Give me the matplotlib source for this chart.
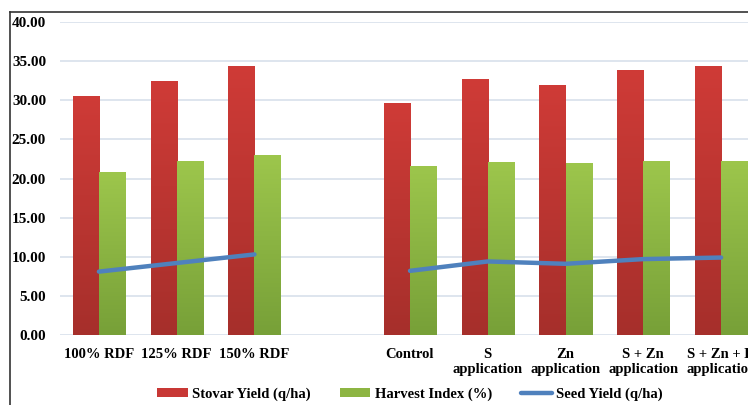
import matplotlib.pyplot as plt
import numpy as np
from matplotlib.lines import Line2D
from matplotlib.colors import LinearSegmentedColormap

plt.rcParams['font.family'] = ['Liberation Serif', 'DejaVu Serif']
plt.rcParams['font.weight'] = 'bold'

# treatments; the empty slot separates the RDF group from the nutrient group
categories = ['100% RDF', '125% RDF', '150% RDF', '',
              'Control', 'S\napplication', 'Zn\napplication',
              'S + Zn\napplication', 'S + Zn + K\napplication']
stovar_yield = [30.6, 32.5, 34.4, np.nan, 29.7, 32.7, 31.95, 33.9, 34.4]
harvest_index = [20.8, 22.2, 23.0, np.nan, 21.6, 22.1, 22.0, 22.2, 22.3]
seed_yield = [8.1, 9.2, 10.3, np.nan, 8.2, 9.4, 9.1, 9.7, 9.9]
yticks = [0, 5, 10, 15, 20, 25, 30, 35, 40]


def gradient_bars(ax, bars, top, bottom):
    cmap = LinearSegmentedColormap.from_list('g', [bottom, top])
    grad = np.linspace(0, 1, 256).reshape(-1, 1)
    for b in bars:
        if not np.isfinite(b.get_height()) or b.get_height() == 0:
            continue
        x0, y0 = b.get_x(), b.get_y()
        im = ax.imshow(grad, cmap=cmap, aspect='auto', origin='lower',
                       extent=[x0, x0 + b.get_width(), y0, y0 + b.get_height()],
                       zorder=2)
        im.set_clip_path(b)


fig = plt.figure(figsize=(7.48, 4.05), dpi=100)
ax = fig.add_axes([60 / 748, 70 / 405, 700 / 748, 313 / 405])

x = np.arange(len(categories))
w = 0.335
red_bars = ax.bar(x - w / 2, stovar_yield, w, color='#C83835', zorder=2,
                  label='Stovar Yield (q/ha)')
green_bars = ax.bar(x + w / 2, harvest_index, w, color='#8DB543', zorder=2,
                    label='Harvest Index (%)')
gradient_bars(ax, red_bars, '#CF3B37', '#A62F2B')
gradient_bars(ax, green_bars, '#9DC64C', '#77A038')
seed_line, = ax.plot(x, seed_yield, color='#4F81BD', lw=3.2, zorder=3,
                     solid_capstyle='round', label='Seed Yield (q/ha)')

ax.set_xlim(-0.5, len(categories) - 0.5)
ax.set_ylim(0, 40)
ax.set_yticks(yticks)
ax.set_yticklabels([f'{v:.2f}' for v in yticks], fontsize=11)
ax.set_xticks(x)
ax.set_xticklabels(categories, linespacing=1.3, fontsize=10.5)
ax.tick_params(axis='both', length=0)
ax.tick_params(axis='y', pad=10)
ax.tick_params(axis='x', pad=9)
ax.yaxis.grid(True, color='#D8E0EB', lw=1.2, zorder=0)
ax.set_axisbelow(True)
for s in ax.spines.values():
    s.set_visible(False)

# outer chart frame
fig.add_artist(Line2D([9.5 / 748, 9.5 / 748], [0, 393 / 405], color='#333333', lw=1.2))
fig.add_artist(Line2D([9.5 / 748, 1], [393 / 405, 393 / 405], color='#333333', lw=1.2))

fig.legend(handles=[red_bars, green_bars, seed_line],
           loc='center', bbox_to_anchor=(0.548, 11 / 405), ncol=3, frameon=False,
           fontsize=10.5, handlelength=2.1, handleheight=0.5, handletextpad=0.3,
           columnspacing=2.0)

fig.savefig('out.png', dpi=100)
